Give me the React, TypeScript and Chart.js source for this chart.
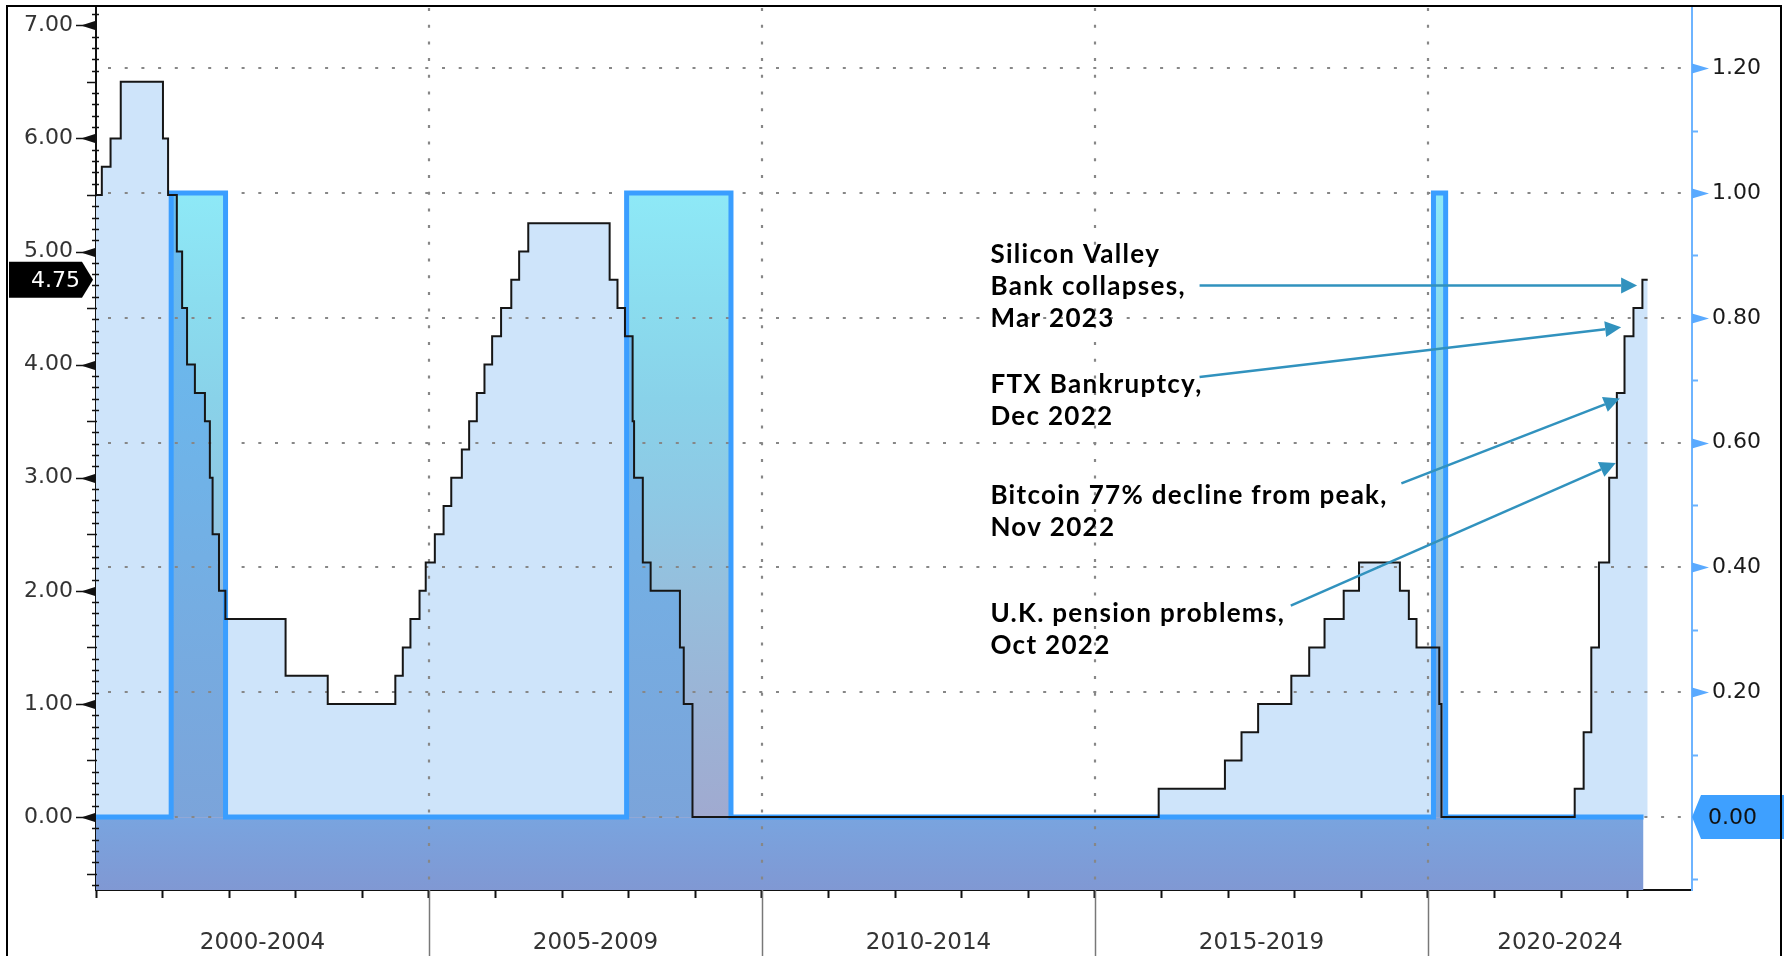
import React, { useEffect, useRef } from 'react';
import { Chart, registerables } from 'chart.js';

Chart.register(...registerables);

// Fed funds target rate (lower bound after Dec 2008), change dates and levels
const RATE_DATES = [
  '2000-01-01', '2000-02-02', '2000-03-21', '2000-05-16', '2001-01-03', '2001-01-31', '2001-03-20',
  '2001-04-18', '2001-05-15', '2001-06-27', '2001-08-21', '2001-09-17', '2001-10-02', '2001-11-06',
  '2001-12-11', '2002-11-06', '2003-06-25', '2004-06-30', '2004-08-10', '2004-09-21', '2004-11-10',
  '2004-12-14', '2005-02-02', '2005-03-22', '2005-05-03', '2005-06-30', '2005-08-09', '2005-09-20',
  '2005-11-01', '2005-12-13', '2006-01-31', '2006-03-28', '2006-05-10', '2006-06-29', '2007-09-18',
  '2007-10-31', '2007-12-11', '2008-01-22', '2008-01-30', '2008-03-18', '2008-04-30', '2008-10-08',
  '2008-10-29', '2008-12-16', '2015-12-16', '2016-12-14', '2017-03-15', '2017-06-14', '2017-12-13',
  '2018-03-21', '2018-06-13', '2018-09-26', '2018-12-19', '2019-07-31', '2019-09-18', '2019-10-30',
  '2020-03-03', '2020-03-15', '2022-03-16', '2022-05-04', '2022-06-15', '2022-07-27', '2022-09-21',
  '2022-11-02', '2022-12-14', '2023-02-01', '2023-03-22', '2023-04-20',
];
const RATE_VALUES = [
  5.5, 5.75, 6.0, 6.5, 6.0, 5.5, 5.0,
  4.5, 4.0, 3.75, 3.5, 3.0, 2.5, 2.0,
  1.75, 1.25, 1.0, 1.25, 1.5, 1.75, 2.0,
  2.25, 2.5, 2.75, 3.0, 3.25, 3.5, 3.75,
  4.0, 4.25, 4.5, 4.75, 5.0, 5.25, 4.75,
  4.5, 4.25, 3.5, 3.0, 2.25, 2.0, 1.5,
  1.0, 0, 0.25, 0.5, 0.75, 1.0, 1.25,
  1.5, 1.75, 2.0, 2.25, 2.0, 1.75, 1.5,
  1.0, 0, 0.25, 0.75, 1.5, 2.25, 3.0,
  3.75, 4.25, 4.5, 4.75, 4.75,
];

// Recession indicator (right axis, 0 / 1)
const REC_SERIES_START = '2000-01-01';
const REC_SERIES_END = '2023-03-28';
const REC_START = ['2001-02-17', '2007-12-20', '2020-01-31'];
const REC_END = ['2001-12-12', '2009-07-15', '2020-04-07'];

// Axes
const X_MIN = 2000;
const X_MAX = 2023.964;
const LEFT_MIN = -0.645;
const LEFT_MAX = 7.153;
const RIGHT_MIN = -0.117;
const RIGHT_MAX = 1.2965;
const LEFT_TICKS = [0, 1, 2, 3, 4, 5, 6, 7];
const RIGHT_TICKS = [0, 0.2, 0.4, 0.6, 0.8, 1.0, 1.2];
const YEAR_TICKS = [
  2000, 2001, 2002, 2003, 2004, 2005, 2006, 2007, 2008, 2009, 2010, 2011,
  2012, 2013, 2014, 2015, 2016, 2017, 2018, 2019, 2020, 2021, 2022, 2023,
];
const PERIOD_LABELS = ['2000-2004', '2005-2009', '2010-2014', '2015-2019', '2020-2024'];
const PERIOD_STARTS = [2000, 2005, 2010, 2015, 2020];

// Annotations (anchors in [year, left-axis value])
const NOTE_TEXT = [
  ['Silicon Valley', 'Bank collapses,', 'Mar 2023'],
  ['FTX Bankruptcy,', 'Dec 2022'],
  ['Bitcoin 77% decline from peak,', 'Nov 2022'],
  ['U.K. pension problems,', 'Oct 2022'],
];
const NOTE_TEXT_AT = [[2013.43, 4.898], [2013.43, 3.749], [2013.43, 2.767], [2013.43, 1.724]];
const NOTE_ARROW_FROM = [[2016.57, 4.70], [2016.57, 3.89], [2019.60, 2.95], [2017.94, 1.87]];
const NOTE_ARROW_TO = [[2023.14, 4.70], [2022.90, 4.33], [2022.88, 3.70], [2022.82, 3.13]];

function toYear(s: string): number {
  const [y, m, d] = s.split('-').map(Number);
  const a = Date.UTC(y, 0, 1);
  const b = Date.UTC(y + 1, 0, 1);
  return y + (Date.UTC(y, m - 1, d) - a) / (b - a);
}

const RATE_T = RATE_DATES.map(toYear);
const ratePoints = RATE_T.map((t, i) => ({ x: t, y: RATE_VALUES[i] }));
function rateAt(t: number): number {
  let v = RATE_VALUES[0];
  for (let i = 0; i < RATE_T.length; i++) if (RATE_T[i] <= t) v = RATE_VALUES[i];
  return v;
}

const recPoints: { x: number; y: number }[] = [{ x: toYear(REC_SERIES_START), y: 0 }];
REC_START.forEach((s, i) => {
  recPoints.push({ x: toYear(s), y: 1 });
  recPoints.push({ x: toYear(REC_END[i]), y: 0 });
});
recPoints.push({ x: toYear(REC_SERIES_END), y: 0 });

// Part of the rate area that lies inside recessions
const overlapPoints: { x: number; y: number | null }[] = [];
REC_START.forEach((s, i) => {
  const a = toYear(s);
  const b = toYear(REC_END[i]);
  if (i > 0) overlapPoints.push({ x: a - 0.01, y: null });
  overlapPoints.push({ x: a, y: rateAt(a) });
  RATE_T.forEach((t, j) => {
    if (t > a && t < b) overlapPoints.push({ x: t, y: RATE_VALUES[j] });
  });
  overlapPoints.push({ x: b, y: rateAt(b - 1e-6) });
});

function gradient(chart: any, stops: [number, string][], belowZero?: [string, string]) {
  const area = chart.chartArea;
  const s = chart.scales && chart.scales.y1;
  if (!area || !s) return stops[stops.length - 1][1];
  const top = s.getPixelForValue(1);
  const zero = s.getPixelForValue(0);
  const bottom = area.bottom;
  const g = chart.ctx.createLinearGradient(0, top, 0, bottom);
  const f = (zero - top) / (bottom - top);
  stops.forEach(([p, c]) => g.addColorStop(Math.min(1, p * f), c));
  if (belowZero) {
    g.addColorStop(Math.min(1, f + 0.002), belowZero[0]);
    g.addColorStop(1, belowZero[1]);
  }
  return g;
}

const recFill = (c: any) =>
  gradient(
    c.chart,
    [
      [0, 'rgb(142,233,247)'],
      [0.17, 'rgb(139,221,239)'],
      [0.33, 'rgb(137,210,233)'],
      [0.5, 'rgb(142,200,228)'],
      [0.65, 'rgb(150,190,220)'],
      [0.81, 'rgb(155,180,214)'],
      [1, 'rgb(160,170,208)'],
    ],
    ['rgb(121,164,223)', 'rgb(128,152,211)']
  );

const overlapFill = (c: any) =>
  gradient(c.chart, [
    [0, 'rgb(104,190,240)'],
    [0.35, 'rgb(109,181,234)'],
    [0.7, 'rgb(118,172,225)'],
    [1, 'rgb(123,164,218)'],
  ]);

const FONT_TICK = '22px "DejaVu Sans"';
const FONT_PERIOD = '23px "DejaVu Sans"';
const FONT_NOTE = 'bold 26px Lato';

const noPad = (s: any) => {
  s.paddingTop = 0;
  s.paddingBottom = 0;
  s.paddingLeft = 0;
  s.paddingRight = 0;
};

const decor = {
  id: 'decor',
  beforeDatasetsDraw(chart: any) {
    const { ctx, chartArea: a, scales } = chart;
    ctx.save();
    ctx.strokeStyle = 'rgb(135,135,135)';
    ctx.lineWidth = 2.2;
    ctx.setLineDash([3, 13.7]);
    RIGHT_TICKS.forEach((v) => {
      const y = Math.round(scales.y1.getPixelForValue(v));
      ctx.beginPath();
      ctx.moveTo(a.left + 12, y);
      ctx.lineTo(a.right, y);
      ctx.stroke();
    });
    PERIOD_STARTS.slice(1).forEach((v) => {
      const x = Math.round(scales.x.getPixelForValue(v));
      ctx.beginPath();
      ctx.moveTo(x, a.top);
      ctx.lineTo(x, a.bottom);
      ctx.stroke();
    });
    ctx.restore();
  },
  afterDraw(chart: any) {
    const { ctx, chartArea: a, scales } = chart;
    const xs = scales.x;
    const yl = scales.y;
    const yr = scales.y1;
    ctx.save();

    // left axis tick marks
    ctx.strokeStyle = '#111';
    ctx.fillStyle = '#111';
    for (let k = Math.ceil(LEFT_MIN * 10); k <= Math.floor(LEFT_MAX * 10); k++) {
      const v = k / 10;
      const y = Math.round(yl.getPixelForValue(v)) + 0.5;
      ctx.lineWidth = 1.5;
      ctx.beginPath();
      if (k % 10 === 0) {
        ctx.moveTo(76, y);
        ctx.lineTo(96, y);
        ctx.stroke();
        ctx.beginPath();
        ctx.moveTo(81, y);
        ctx.lineTo(95, y - 4.5);
        ctx.lineTo(95, y + 4.5);
        ctx.closePath();
        ctx.fill();
      } else if (k % 5 === 0) {
        ctx.moveTo(87, y);
        ctx.lineTo(97, y);
        ctx.stroke();
      } else {
        ctx.moveTo(92, y);
        ctx.lineTo(99, y);
        ctx.stroke();
      }
    }

    // right axis tick marks
    ctx.strokeStyle = 'rgb(105,178,255)';
    ctx.fillStyle = 'rgb(90,170,255)';
    for (let k = Math.ceil(RIGHT_MIN * 10); k <= Math.floor(RIGHT_MAX * 10); k++) {
      const y = Math.round(yr.getPixelForValue(k / 10)) + 0.5;
      if (k % 2 === 0) {
        if (k === 0) continue;
        ctx.beginPath();
        ctx.moveTo(a.right, y - 5);
        ctx.lineTo(a.right + 17, y);
        ctx.lineTo(a.right, y + 5);
        ctx.closePath();
        ctx.fill();
      } else {
        ctx.lineWidth = 2;
        ctx.beginPath();
        ctx.moveTo(a.right, y);
        ctx.lineTo(a.right + 6, y);
        ctx.stroke();
      }
    }

    // separators and period labels below the axis
    ctx.strokeStyle = 'rgb(120,120,120)';
    ctx.lineWidth = 1.5;
    PERIOD_STARTS.slice(1).forEach((v) => {
      const x = Math.round(xs.getPixelForValue(v)) + 0.5;
      ctx.beginPath();
      ctx.moveTo(x, a.bottom);
      ctx.lineTo(x, chart.height);
      ctx.stroke();
    });
    ctx.font = FONT_PERIOD;
    ctx.fillStyle = '#333';
    ctx.textAlign = 'center';
    ctx.textBaseline = 'middle';
    PERIOD_LABELS.forEach((lab, i) => {
      const x0 = xs.getPixelForValue(PERIOD_STARTS[i]);
      const x1 = xs.getPixelForValue(i + 1 < PERIOD_STARTS.length ? PERIOD_STARTS[i + 1] : X_MAX);
      ctx.fillText(lab, (x0 + x1) / 2, 943);
    });

    // last value boxes
    const lastRate = RATE_VALUES[RATE_VALUES.length - 1];
    const yr475 = yl.getPixelForValue(lastRate);
    ctx.fillStyle = '#000';
    ctx.beginPath();
    ctx.moveTo(9, yr475 - 18);
    ctx.lineTo(82, yr475 - 18);
    ctx.lineTo(93, yr475);
    ctx.lineTo(82, yr475 + 18);
    ctx.lineTo(9, yr475 + 18);
    ctx.closePath();
    ctx.fill();
    ctx.font = FONT_TICK;
    ctx.fillStyle = '#fff';
    ctx.textAlign = 'right';
    ctx.fillText(lastRate.toFixed(2), 80, yr475 + 1);

    const lastRec = recPoints[recPoints.length - 1].y;
    const y0 = yr.getPixelForValue(lastRec);
    ctx.fillStyle = 'rgb(62,160,255)';
    ctx.beginPath();
    ctx.moveTo(a.right, y0);
    ctx.lineTo(a.right + 9, y0 - 22);
    ctx.lineTo(chart.width, y0 - 22);
    ctx.lineTo(chart.width, y0 + 22);
    ctx.lineTo(a.right + 9, y0 + 22);
    ctx.closePath();
    ctx.fill();
    ctx.fillStyle = '#111';
    ctx.textAlign = 'left';
    ctx.font = FONT_TICK;
    ctx.fillText(lastRec.toFixed(2), a.right + 16, y0 + 1);

    // annotations
    ctx.font = FONT_NOTE;
    (ctx as any).letterSpacing = '1.3px';
    ctx.fillStyle = '#000';
    ctx.textAlign = 'left';
    ctx.textBaseline = 'alphabetic';
    NOTE_TEXT.forEach((lines, i) => {
      const x = xs.getPixelForValue(NOTE_TEXT_AT[i][0]);
      const y = yl.getPixelForValue(NOTE_TEXT_AT[i][1]);
      lines.forEach((t, j) => ctx.fillText(t, x, y + j * 32));
    });
    (ctx as any).letterSpacing = '0px';
    ctx.strokeStyle = 'rgb(49,146,190)';
    ctx.fillStyle = 'rgb(49,146,190)';
    ctx.lineWidth = 2.5;
    NOTE_ARROW_FROM.forEach((f, i) => {
      const x1 = xs.getPixelForValue(f[0]);
      const y1 = yl.getPixelForValue(f[1]);
      const x2 = xs.getPixelForValue(NOTE_ARROW_TO[i][0]);
      const y2 = yl.getPixelForValue(NOTE_ARROW_TO[i][1]);
      const ang = Math.atan2(y2 - y1, x2 - x1);
      const L = 16;
      const W = 8;
      const bx = x2 - L * Math.cos(ang);
      const by = y2 - L * Math.sin(ang);
      ctx.beginPath();
      ctx.moveTo(x1, y1);
      ctx.lineTo(bx, by);
      ctx.stroke();
      ctx.beginPath();
      ctx.moveTo(x2, y2);
      ctx.lineTo(bx + W * Math.sin(ang), by - W * Math.cos(ang));
      ctx.lineTo(bx - W * Math.sin(ang), by + W * Math.cos(ang));
      ctx.closePath();
      ctx.fill();
    });

    // outer frame
    ctx.strokeStyle = '#000';
    ctx.lineWidth = 2;
    ctx.strokeRect(7, 6, 1774, 980);
    ctx.restore();
  },
};

export default function App() {
  const ref = useRef<HTMLCanvasElement | null>(null);
  useEffect(() => {
    if (!ref.current) return;
    const chart = new Chart(ref.current, {
      type: 'line',
      data: {
        datasets: [
          {
            label: 'overlap',
            data: overlapPoints as any,
            yAxisID: 'y',
            stepped: true,
            borderWidth: 0,
            borderColor: 'rgba(0,0,0,0)',
            pointRadius: 0,
            fill: 'origin',
            backgroundColor: overlapFill as any,
            order: 0,
            spanGaps: false,
          },
          {
            label: 'Fed funds target',
            data: ratePoints as any,
            yAxisID: 'y',
            stepped: true,
            borderColor: '#161616',
            borderWidth: 2,
            borderJoinStyle: 'miter',
            pointRadius: 0,
            fill: 'origin',
            backgroundColor: 'rgb(206,228,250)',
            order: 1,
          },
          {
            label: 'Recession',
            data: recPoints as any,
            yAxisID: 'y1',
            stepped: true,
            borderColor: 'rgb(58,158,255)',
            borderWidth: 5,
            borderJoinStyle: 'miter',
            pointRadius: 0,
            fill: 'start',
            backgroundColor: recFill as any,
            order: 2,
          },
        ],
      },
      options: {
        responsive: false,
        devicePixelRatio: 1,
        animation: false,
        parsing: true,
        layout: { padding: { top: 8, left: 0, right: 0, bottom: 0 } },
        plugins: {
          legend: { display: false },
          tooltip: { enabled: false },
          filler: { drawTime: 'beforeDatasetsDraw' },
        },
        scales: {
          x: {
            type: 'linear',
            position: 'bottom',
            min: X_MIN,
            max: X_MAX,
            afterFit: (s: any) => { s.height = 66; noPad(s); },
            afterBuildTicks: (s: any) => { s.ticks = YEAR_TICKS.map((v) => ({ value: v })); },
            ticks: { display: false },
            grid: {
              display: true,
              drawOnChartArea: false,
              color: 'rgba(0,0,0,0)',
              drawTicks: true,
              tickLength: 8,
              tickColor: '#111',
              tickWidth: 2,
            },
            border: { display: true, color: '#111', width: 2 },
          },
          y: {
            type: 'linear',
            position: 'left',
            min: LEFT_MIN,
            max: LEFT_MAX,
            afterFit: (s: any) => { s.width = 96; noPad(s); },
            afterBuildTicks: (s: any) => { s.ticks = LEFT_TICKS.map((v) => ({ value: v })); },
            ticks: {
              padding: 23,
              color: '#333',
              font: { family: 'DejaVu Sans', size: 22 },
              callback: (v: any) => Number(v).toFixed(2),
            },
            grid: { display: false, drawTicks: false },
            border: { display: true, color: '#111', width: 2 },
          },
          y1: {
            type: 'linear',
            position: 'right',
            min: RIGHT_MIN,
            max: RIGHT_MAX,
            afterFit: (s: any) => { s.width = 92; noPad(s); },
            afterBuildTicks: (s: any) => { s.ticks = RIGHT_TICKS.map((v) => ({ value: v })); },
            ticks: {
              padding: 20,
              color: '#1a1a1a',
              font: { family: 'DejaVu Sans', size: 22 },
              callback: (v: any) => (Number(v) === 0 ? '' : Number(v).toFixed(2)),
            },
            grid: { display: false, drawTicks: false },
            border: { display: true, color: 'rgb(110,180,255)', width: 2 },
          },
        },
      },
      plugins: [decor],
    });
    return () => chart.destroy();
  }, []);
  return (
    <div
      style={{
        position: 'absolute',
        left: 0,
        top: 0,
        width: 1784,
        height: 956,
        background: '#fff',
        overflow: 'hidden',
      }}
    >
      <canvas ref={ref} width={1784} height={956} style={{ display: 'block' }} />
    </div>
  );
}
